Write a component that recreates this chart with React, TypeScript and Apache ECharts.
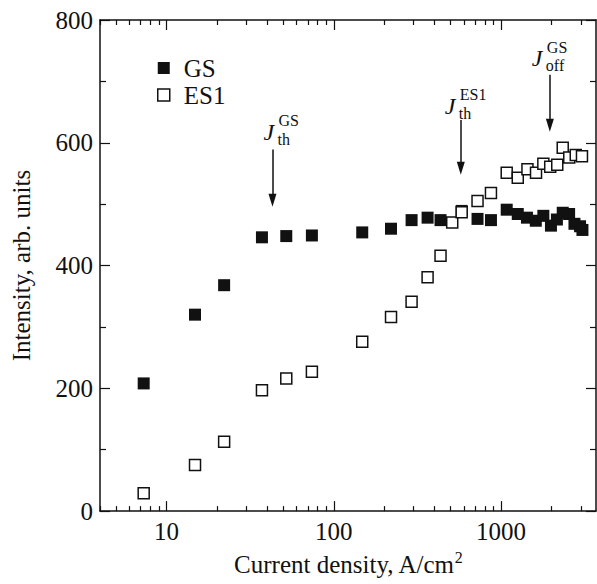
import React, { useEffect, useRef } from "react";
import * as echarts from "echarts";

// ---------- data ----------
const gsCurrent = [7.3, 14.8, 22.1, 37.2, 52, 74, 148, 220, 292, 364, 435, 582, 724, 871, 1082, 1260, 1430, 1615, 1792, 1990, 2160, 2340, 2555, 2750, 2970, 3070];
const gsIntensity = [208, 320, 368, 446, 448, 449, 454, 460, 474, 478, 474, 489, 476, 474, 491, 484, 478, 473, 481, 465, 475, 486, 484, 468, 464, 458];

const es1Current = [7.3, 14.8, 22.1, 37.2, 52, 74, 148, 220, 292, 364, 435, 511, 582, 724, 871, 1082, 1260, 1440, 1620, 1792, 1970, 2170, 2340, 2560, 2800, 3050];
const es1Intensity = [29, 75, 113, 197, 216, 227, 276, 316, 341, 381, 416, 470, 487, 505, 518, 551, 543, 557, 551, 566, 561, 564, 592, 576, 580, 578];

const xMajorTicks = [10, 100, 1000];
const yTicks = [0, 200, 400, 600, 800];

// annotations (arrows)
const arrowCurrent = [43, 575, 1960];
const arrowTail = [589, 637, 711];
const arrowTip = [496, 548, 618];
const arrowSub = ["th", "th", "off"];
const arrowSup = ["GS", "ES1", "GS"];

const X_MIN = 4;
const X_MAX = 3700;

// ---------- styling / layout ----------
const FONT = "'Liberation Serif', 'Times New Roman', serif";
const INK = "#111111";
const GRID = { left: 100, top: 20, right: 1, bottom: 72 };
const labelDx = [-9, -16, -18];
const labelDy = [-18, -14.5, -16.5];

const lg = (v: number) => Math.log10(v);

function minorTickValues(): number[] {
  const out: number[] = [];
  [1, 10, 100, 1000].forEach((d) => {
    for (let k = 2; k <= 9; k++) {
      const v = k * d;
      if (v >= X_MIN && v <= X_MAX) out.push(lg(v));
    }
  });
  return out;
}

function xAxis(position: "bottom" | "top", major: boolean, showLine: boolean, showLabel: boolean, withName: boolean) {
  const ax: any = {
    type: "value",
    position,
    min: lg(X_MIN),
    max: lg(X_MAX),
    axisLine: { show: showLine, onZero: false, lineStyle: { color: INK, width: 1.5 } },
    axisTick: {
      show: true,
      inside: true,
      length: major ? 10 : 5,
      customValues: major ? xMajorTicks.map(lg) : minorTickValues(),
      lineStyle: { color: INK, width: 1.2 },
    },
    axisLabel: {
      show: showLabel,
      customValues: xMajorTicks.map(lg),
      formatter: (v: number) => String(Math.round(Math.pow(10, v))),
      fontFamily: FONT,
      fontSize: 25,
      color: INK,
      margin: 8,
    },
    splitLine: { show: false },
  };
  if (withName) {
    ax.name = "Current density, A/cm{sup|2}";
    ax.nameLocation = "middle";
    ax.nameGap = 34;
    ax.nameTextStyle = {
      fontFamily: FONT,
      fontSize: 25,
      color: INK,
      lineHeight: 30,
      rich: { sup: { fontFamily: FONT, fontSize: 16, color: INK, verticalAlign: "top", lineHeight: 18 } },
    };
  }
  return ax;
}

function yAxis(position: "left" | "right", showLabel: boolean) {
  const ax: any = {
    type: "value",
    position,
    min: yTicks[0],
    max: yTicks[yTicks.length - 1],
    interval: 200,
    axisLine: { show: true, onZero: false, lineStyle: { color: INK, width: 1.5 } },
    axisTick: { show: true, inside: true, length: 10, lineStyle: { color: INK, width: 1.2 } },
    minorTick: { show: true, splitNumber: 2, length: 6, lineStyle: { color: INK, width: 1.2 } },
    axisLabel: { show: showLabel, fontFamily: FONT, fontSize: 25, color: INK, margin: 7 },
    splitLine: { show: false },
  };
  if (showLabel) {
    ax.name = "Intensity, arb. units";
    ax.nameLocation = "middle";
    ax.nameGap = 66;
    ax.nameTextStyle = { fontFamily: FONT, fontSize: 25, color: INK };
  }
  return ax;
}

export default function App() {
  const ref = useRef<HTMLDivElement>(null);

  useEffect(() => {
    if (!ref.current) return;
    const chart = echarts.init(ref.current, undefined, { renderer: "svg" });
    const pxPerUnit = (584 - GRID.top - GRID.bottom) / (yTicks[yTicks.length - 1] - yTicks[0]);
    const headLen = 13;

    const option: any = {
      animation: false,
      backgroundColor: "#ffffff",
      grid: { ...GRID, containLabel: false },
      xAxis: [
        xAxis("bottom", true, true, true, true),
        xAxis("bottom", false, false, false, false),
        xAxis("top", true, true, false, false),
        xAxis("top", false, false, false, false),
      ],
      yAxis: [yAxis("left", true), yAxis("right", false)],
      legend: {
        orient: "vertical",
        left: 152,
        top: 50.5,
        itemWidth: 12,
        itemHeight: 12,
        itemGap: 2,
        selectedMode: false,
        textStyle: { fontFamily: FONT, fontSize: 25, color: INK, lineHeight: 25, padding: [0, 0, 0, 9] },
        data: [
          { name: "GS", icon: "rect", itemStyle: { color: INK, opacity: 1 } },
          { name: "ES1", icon: "rect", itemStyle: { color: "#ffffff", borderColor: INK, borderWidth: 1.5, opacity: 1 } },
        ],
      },
      series: [
        {
          name: "GS",
          type: "scatter",
          symbol: "rect",
          symbolSize: 12,
          itemStyle: { color: INK, opacity: 1 },
          data: gsCurrent.map((x, i) => [lg(x), gsIntensity[i]]),
          markLine: {
            silent: true,
            symbol: ["none", "triangle"],
            symbolSize: [8, headLen],
            label: { show: false },
            lineStyle: { color: INK, width: 1.5, type: "solid", opacity: 1 },
            emphasis: { disabled: true },
            data: arrowCurrent.map((x, i) => [
              { coord: [lg(x), arrowTail[i]] },
              { coord: [lg(x), arrowTip[i] + headLen / 2 / pxPerUnit] },
            ]),
          },
        },
        {
          name: "ES1",
          type: "scatter",
          symbol: "rect",
          symbolSize: 11,
          itemStyle: { color: "#ffffff", borderColor: INK, borderWidth: 1.5, opacity: 1 },
          data: es1Current.map((x, i) => [lg(x), es1Intensity[i]]),
        },
      ],
    };
    chart.setOption(option);

    // J with superscript and subscript
    const graphics: any[] = [];
    arrowCurrent.forEach((x, i) => {
      const p = chart.convertToPixel({ xAxisIndex: 0, yAxisIndex: 0 }, [lg(x), arrowTail[i]]) as number[];
      const jx = p[0] + labelDx[i];
      const jy = p[1] + labelDy[i];
      graphics.push({
        type: "text",
        x: jx,
        y: jy,
        style: { text: "J", fontFamily: FONT, fontSize: 24, fontStyle: "italic", fill: INK, align: "left", verticalAlign: "middle" },
      });
      graphics.push({
        type: "text",
        x: jx + 15,
        y: jy - 11,
        style: { text: arrowSup[i], fontFamily: FONT, fontSize: 16, fill: INK, align: "left", verticalAlign: "middle" },
      });
      graphics.push({
        type: "text",
        x: jx + 14,
        y: jy + 7.5,
        style: { text: arrowSub[i], fontFamily: FONT, fontSize: 16, fill: INK, align: "left", verticalAlign: "middle" },
      });
    });
    chart.setOption({ graphic: graphics });

    return () => chart.dispose();
  }, []);

  return <div ref={ref} style={{ position: "absolute", left: 0, top: 0, width: 597, height: 584 }} />;
}
